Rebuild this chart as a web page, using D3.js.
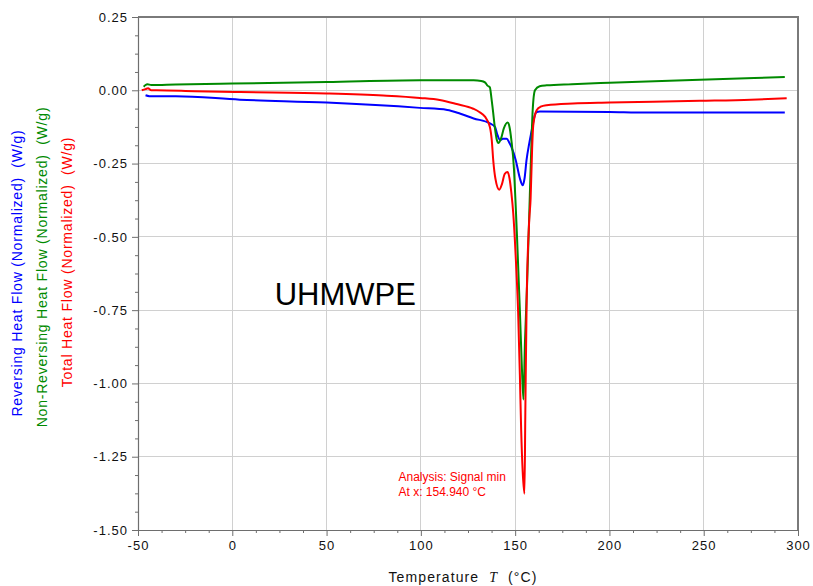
<!DOCTYPE html>
<html>
<head>
<meta charset="utf-8">
<script src="https://cdn.jsdelivr.net/npm/d3@7"></script>
<style>
  html, body { margin: 0; padding: 0; background: #fff; }
  svg { display: block; font-family: "Liberation Sans", Arial, sans-serif; }
</style>
</head>
<body>
<svg id="chart" width="813" height="586"></svg>
<script>
// Modulated DSC of UHMWPE: total, reversing and non-reversing heat flow (W/g) vs temperature (°C)

// Total heat flow (red)
const totalT  = [-48, -46, -44.7, -43, -40, -20, 4, 50, 80, 99.5, 110, 119, 127.8, 131, 134, 136.6, 137.6, 138.4, 139.5, 141.6, 143, 144.5, 146, 147, 148, 149, 150.4, 151.6, 152.5, 153.2, 154, 154.94, 155.4, 156.1, 157.5, 158.2, 159, 159.6, 161.4, 163.5, 166.7, 180.7, 200, 248, 275, 294];
const totalHF = [0.0, 0.004, 0.007, 0.0, 0.0, -0.003, -0.006, -0.011, -0.018, -0.026, -0.033, -0.047, -0.063, -0.074, -0.09, -0.125, -0.17, -0.24, -0.3, -0.339, -0.32, -0.285, -0.279, -0.3, -0.35, -0.42, -0.58, -0.76, -0.97, -1.16, -1.3, -1.376, -1.1, -0.72, -0.44, -0.37, -0.2, -0.12, -0.068, -0.056, -0.051, -0.045, -0.042, -0.036, -0.032, -0.027];

// Non-reversing heat flow (green)
const nonRevT  = [-47, -46, -45, -43, -30, 0, 50, 99.5, 128, 132, 134, 135.5, 136.6, 137.4, 138.2, 139.3, 140.3, 141.1, 142.5, 144, 146, 147, 148, 149.4, 150.4, 151, 152.5, 153.6, 154.4, 155.2, 156.4, 157.5, 158.3, 159.3, 160.5, 163, 166.7, 180, 200, 248, 293];
const nonRevHF = [0.012, 0.018, 0.021, 0.018, 0.02, 0.023, 0.028, 0.034, 0.034, 0.032, 0.027, 0.015, 0.01, -0.025, -0.068, -0.13, -0.17, -0.18, -0.165, -0.13, -0.11, -0.125, -0.17, -0.27, -0.41, -0.5, -0.75, -0.95, -1.055, -0.86, -0.65, -0.42, -0.25, -0.068, 0.0, 0.014, 0.017, 0.021, 0.026, 0.036, 0.045];

// Reversing heat flow (blue)
const revT  = [-46, -44, -30, 4, 50, 99.5, 114, 121, 128, 136.6, 139.3, 140.5, 142, 143.5, 145.5, 147, 148, 150.4, 152.5, 154, 155, 156, 157.5, 158.8, 160, 161.4, 163, 200, 220, 293];
const revHF = [-0.017, -0.02, -0.02, -0.032, -0.042, -0.06, -0.067, -0.08, -0.096, -0.113, -0.125, -0.15, -0.17, -0.165, -0.165, -0.18, -0.193, -0.24, -0.3, -0.324, -0.3, -0.24, -0.18, -0.136, -0.095, -0.074, -0.072, -0.074, -0.076, -0.076];

// Axis ticks
const xTicks = [-50, 0, 50, 100, 150, 200, 250, 300];
const yTicks = [-1.5, -1.25, -1.0, -0.75, -0.5, -0.25, 0.0, 0.25];

const sampleName = "UHMWPE";
const peakLabel = ["Analysis: Signal min", "At x: 154.940 °C"];
const peakT = 154.94;

const W = 813, H = 586;
const margin = { top: 17, right: 15, bottom: 56, left: 138 };
const iw = W - margin.left - margin.right;
const ih = H - margin.top - margin.bottom;

const svg = d3.select("#chart");
const g = svg.append("g").attr("transform", `translate(${margin.left},${margin.top})`);

const x = d3.scaleLinear().domain([-50, 300]).range([0, iw]);
const y = d3.scaleLinear().domain([-1.5, 0.25]).range([ih, 0]);

// Plain hyphen for negative tick values
const hyphen = f => d => f(d).replace("\u2212", "-");

// Grid
g.append("g").selectAll("line").data(xTicks).join("line")
  .attr("x1", d => x(d)).attr("x2", d => x(d)).attr("y1", 0).attr("y2", ih)
  .attr("stroke", "#d0d0d0").attr("stroke-width", 1).attr("shape-rendering", "crispEdges");
g.append("g").selectAll("line").data(yTicks).join("line")
  .attr("x1", 0).attr("x2", iw).attr("y1", d => y(d)).attr("y2", d => y(d))
  .attr("stroke", "#d0d0d0").attr("stroke-width", 1).attr("shape-rendering", "crispEdges");

// Frame (top and right)
g.append("path")
  .attr("d", `M0,0H${iw}V${ih}`)
  .attr("fill", "none").attr("stroke", "#7a7a7a").attr("stroke-width", 1.2)
  .attr("shape-rendering", "crispEdges");

// Minor ticks
const xMinor = d3.range(-50, 300.1, 12.5).filter(v => !xTicks.includes(v));
const yMinor = d3.range(-1.5, 0.251, 0.0625).filter(v => !yTicks.some(t => Math.abs(t - v) < 1e-6));

const styleAxis = sel => {
  sel.selectAll("path.domain").attr("stroke", "#6e6e6e").attr("stroke-width", 1.2);
  sel.selectAll(".tick line").attr("stroke", "#6e6e6e");
  sel.selectAll(".tick text")
    .attr("fill", "#111").style("font-size", "13px").style("letter-spacing", "1px")
    .style("font-family", '"Liberation Sans", Arial, sans-serif');
};

g.append("g").attr("transform", `translate(0,${ih})`)
  .call(d3.axisBottom(x).tickValues(xMinor).tickSize(3).tickFormat(""))
  .call(s => s.select("path.domain").remove())
  .call(styleAxis);
g.append("g").call(d3.axisLeft(y).tickValues(yMinor).tickSize(3).tickFormat(""))
  .call(s => s.select("path.domain").remove())
  .call(styleAxis);

g.append("g").attr("transform", `translate(0,${ih})`)
  .call(d3.axisBottom(x).tickValues(xTicks).tickSize(6).tickSizeOuter(0).tickPadding(5).tickFormat(hyphen(d3.format("d"))))
  .call(styleAxis);
g.append("g")
  .call(d3.axisLeft(y).tickValues(yTicks).tickSize(6).tickSizeOuter(0).tickPadding(4).tickFormat(hyphen(d3.format(".2f"))))
  .call(styleAxis);

// Curves
const line = d3.line().x(d => x(d[0])).y(d => y(d[1])).curve(d3.curveMonotoneX);
const series = [
  { t: revT, v: revHF, color: "#0000ff" },
  { t: nonRevT, v: nonRevHF, color: "#008a00" },
  { t: totalT, v: totalHF, color: "#ff0000" }
];
g.append("g").selectAll("path").data(series).join("path")
  .attr("d", s => line(d3.zip(s.t, s.v)))
  .attr("fill", "none").attr("stroke", d => d.color).attr("stroke-width", 2)
  .attr("stroke-linejoin", "round");

// Sample label
g.append("text")
  .attr("x", x(22.5)).attr("y", y(-0.734))
  .attr("font-size", 31).attr("fill", "#000")
  .text(sampleName);

// Peak analysis label
const ann = g.append("text")
  .attr("x", x(peakT) - 126).attr("y", y(-1.333))
  .attr("font-size", 12).attr("fill", "#ff0000");
ann.selectAll("tspan").data(peakLabel).join("tspan")
  .attr("x", x(peakT) - 126).attr("dy", (d, i) => i === 0 ? 0 : 15)
  .text(d => d);

// X axis title
const xt = svg.append("text")
  .attr("x", 463).attr("y", 582)
  .attr("text-anchor", "middle").attr("font-size", 14)
  .style("letter-spacing", "1.1px").style("white-space", "pre").attr("fill", "#111");
xt.append("tspan").text("Temperature  ");
xt.append("tspan").style("font-family", '"Liberation Serif", "Times New Roman", serif')
  .style("font-style", "italic").text("T");
xt.append("tspan").text("  (°C)");

// Y axis titles
const yTitles = [
  { text: "Reversing Heat Flow (Normalized)  (W/g)", color: "#0000ff", x: 22, cy: 273 },
  { text: "Non-Reversing Heat Flow (Normalized)  (W/g)", color: "#008a00", x: 47, cy: 267 },
  { text: "Total Heat Flow (Normalized)  (W/g)", color: "#ff0000", x: 72, cy: 262 }
];
svg.append("g").selectAll("text").data(yTitles).join("text")
  .attr("transform", d => `translate(${d.x},${d.cy}) rotate(-90)`)
  .attr("text-anchor", "middle").attr("font-size", 14)
  .style("letter-spacing", "0.8px").style("white-space", "pre")
  .attr("fill", d => d.color)
  .text(d => d.text);
</script>
</body>
</html>
